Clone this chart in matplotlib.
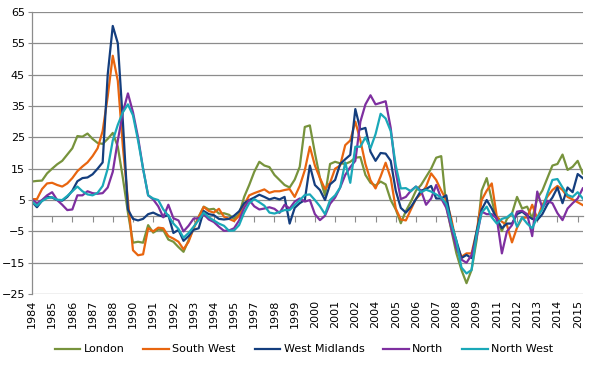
import numpy as np
import matplotlib
matplotlib.use("Agg")
import matplotlib.pyplot as plt

# annual house price change (%)
year_labels = ["1984", "1985", "1986", "1987", "1988", "1990", "1991", "1992",
               "1993", "1994", "1995", "1997", "1998", "1999", "2000", "2001",
               "2002", "2004", "2005", "2006", "2007", "2008", "2009", "2011",
               "2012", "2013", "2014", "2015"]

london = [10.9, 11.1, 11.2, 13.5, 15, 16.4, 17.5, 19.5, 21.5, 25.4,
          25.2, 26.2, 24.5, 23.2, 22.9, 24.5, 26.4, 22, 12, 1,
          -8.6, -8.3, -8.6, -3, -5.4, -4.4, -4.6, -7.6, -8.3, -10,
          -11.5, -7.8, -4, -0.3, 2.9, 2, 2.2, 0.7, 0.8, 0.3,
          -1, 0.5, 6, 9.8, 14, 17.2, 16, 15.5, 13, 11.4,
          9.8, 9, 11.5, 15.6, 28.3, 28.8, 20, 12, 6.5, 16.5,
          17.2, 16.7, 16.5, 17.2, 18.5, 18.7, 13, 10.5, 9.6, 10.9,
          10, 5, 2, -2.4, 1.5, 4.5, 8, 9.8, 12.4, 15,
          18.5, 19, 3, -4.6, -12, -17.3, -21.5, -17.3, -7.8, 8,
          12, 5, -1.4, -4.9, -1, 0.7, 6, 2.3, 2.9, -0.9,
          5.5, 8, 12, 16, 16.5, 19.5, 14.6, 15.6, 17.5, 13.5]

south_west = [5.3, 5.3, 8.5, 10.3, 10.5, 9.8, 9.3, 10.3, 12, 14.2,
              15.7, 17, 19, 21.5, 27, 38, 51, 43, 22, 5,
              -11, -12.6, -12.3, -4, -5, -3.8, -4, -6.5, -7.3, -8.3,
              -10.7, -8.3, -4, -0.5, 2.8, 1.5, 1, 2.2, -0.3, -1,
              -1.7, 0, 3.5, 6.5, 7.2, 7.8, 8.4, 7.3, 7.8, 7.8,
              8.2, 8.5, 6, 9.5, 14.5, 22, 16, 12, 8.5, 10.5,
              15, 16, 22.5, 24, 30, 24, 16.5, 11.3, 8.7, 12.5,
              16.9, 12, 2.3, -1.2, -1.5, 2, 5.4, 7, 9.3, 13.5,
              11.4, 8, 5, -1, -9, -13.1, -12, -12, -5, 5,
              8, 10.3, -0.3, -1.9, -3, -8.5, -3.8, -0.8, -0.5, 3.5,
              -0.9, 3.4, 6.1, 8.2, 9.5, 8.2, 6, 5.2, 4.3, 3.4]

west_midlands = [4.5, 2.7, 4.8, 6, 5.8, 5, 4.8, 6, 8, 11,
                 12, 12.2, 13.2, 15, 17, 45, 60.5, 55, 30, 2,
                 -1, -1.5, -1, 0.5, 1, 0.2, -0.3, 0.2, -5.5, -4.5,
                 -8, -6.5, -4.5, -4, 1.5, 0.5, 0.2, -1, -1.2, -1,
                 0, 1.4, 4, 5, 5.8, 6.7, 6, 5.2, 5.7, 5.2,
                 6, -2.5, 2.5, 4, 5, 16, 9.8, 8.2, 5, 10,
                 11.4, 16.5, 18, 19.4, 34, 27.5, 28, 20.4, 17.5, 20,
                 19.8, 17.5, 8, 2.5, 1, 2.8, 5.3, 8, 8.5, 9.5,
                 5.5, 5.5, 6.5, -2.5, -8, -13.5, -12.5, -13.5, -5, 2,
                 5, 2.3, -1, -4, -2.5, -2.5, 0.5, 1.3, 0, -1,
                 -1.4, 0.5, 3.6, 5.8, 9, 4, 9, 7.5, 13.3, 12]

north = [5.2, 4, 5, 6.5, 7.5, 5, 3.5, 1.8, 2, 6.5,
         6.5, 7.8, 7.2, 7, 7.2, 9, 14, 24, 33, 39,
         33, 25, 15, 6.5, 5.2, 3, -0.5, 3.5, -0.8, -1.5,
         -5, -3.2, -0.9, -0.8, 0.5, -1.2, -2, -3.5, -4.8, -4.7,
         -4, -1.5, 2.5, 5, 3, 2, 2.3, 2.7, 2.2, 0.9,
         3.5, 2.3, 4.5, 5.5, 4.5, 5, 0.5, -1.4, 0, 3.8,
         5.8, 9, 13, 15.5, 17.5, 30, 35.5, 38.4, 35.5, 36,
         36.5, 28, 14, 5.3, 6, 8, 9.3, 8, 3.5, 5.5,
         9.8, 5.5, 2.5, -4, -10.4, -14, -15, -12.5, -7, 1.3,
         0.5, 0.5, -0.9, -12, -5, -3, 1.3, 1.6, 0.5, -6.5,
         7.7, 2.5, 4.8, 4, 0.8, -1.4, 2.3, 4, 5.5, 8.7]

north_west = [4.5, 3.2, 4.7, 5.6, 5.9, 5.1, 5, 6.3, 7.8, 9.3,
              7.8, 6.8, 6.5, 7.3, 9.5, 15, 24, 29, 33, 35.5,
              32, 24, 15, 6.5, 5.5, 5, 2, 0, -2.5, -4.2,
              -7, -5.5, -3.5, -1.4, 1, -0.5, -1.5, -2.5, -3.2, -4.8,
              -4.7, -3, 1, 4, 5.3, 4.3, 3.2, 1, 0.7, 1.2,
              1.8, 1.8, 3.4, 5, 6.6, 6.8, 5, 3, 0.5, 5,
              6.5, 9, 17, 10.5, 22, 22, 25, 21.5, 26, 32.5,
              31, 27, 16, 8.7, 8.8, 7.8, 9.3, 7.5, 8.3, 7.7,
              6.8, 5.8, 3.8, -2.5, -8, -16.5, -18.4, -17.3, -6, 1,
              2.9, -0.5, -2.5, -1, -0.5, 0.8, -3.5, -0.5, -2.5, -4,
              -0.5, 2, 7, 11.4, 11.7, 9, 6.6, 6, 7.5, 5.5]

series = [
    ("London", london, "#77933C"),
    ("South West", south_west, "#E8650F"),
    ("West Midlands", west_midlands, "#143E7E"),
    ("North", north, "#7E2FA0"),
    ("North West", north_west, "#1AA8B8"),
]

grid_color = "#8C8C8C"
y_min, y_max = -25, 65

fig = plt.figure(figsize=(6.02, 3.70), dpi=100)
ax = fig.add_axes([0.053, 0.205, 0.915, 0.763])

x = np.arange(len(london))
for name, values, color in series:
    ax.plot(x, values, color=color, linewidth=1.6, label=name)

ax.set_xlim(0, len(london) - 1)
ax.set_ylim(y_min, y_max)
ax.set_yticks(np.arange(y_min, y_max + 1, 10))
ax.yaxis.grid(True, color=grid_color, linewidth=0.9)
ax.set_axisbelow(True)
ax.tick_params(axis="y", labelsize=8, length=3, color=grid_color, pad=2)

# category labels at the bottom, tick marks on the zero line
tick_pos = np.arange(0, len(london), 4)
ax.set_xticks(tick_pos)
ax.set_xticklabels(year_labels, rotation=90, fontsize=8)
ax.tick_params(axis="x", length=0, pad=4)

zero_axis = ax.secondary_xaxis((0 - y_min) / (y_max - y_min))
zero_axis.set_xticks(tick_pos)
zero_axis.tick_params(axis="x", direction="out", length=4, color=grid_color,
                      labelbottom=False, labeltop=False)
zero_axis.spines["bottom"].set_color(grid_color)
zero_axis.spines["bottom"].set_linewidth(0.9)

for side in ["top", "right", "bottom"]:
    ax.spines[side].set_visible(False)
ax.spines["left"].set_color(grid_color)
ax.spines["left"].set_linewidth(0.9)

fig.legend(loc="lower center", bbox_to_anchor=(0.505, 0.015), ncol=5,
           frameon=False, fontsize=8, handlelength=2.3, handletextpad=0.3,
           columnspacing=1.7)

fig.savefig("out.png", dpi=100)
